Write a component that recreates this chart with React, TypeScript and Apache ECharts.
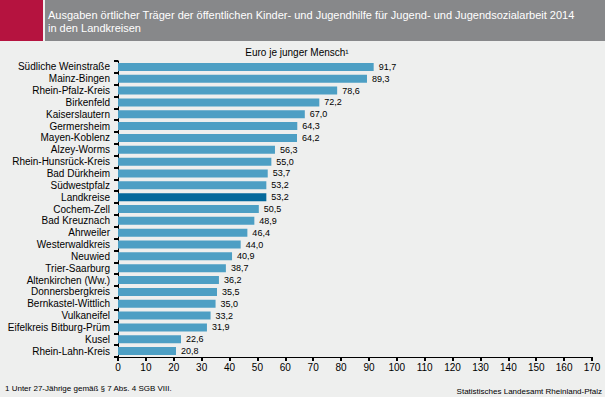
import React, { useEffect, useRef } from "react";
import * as echarts from "echarts";

const categories = [
  "Südliche Weinstraße",
  "Mainz-Bingen",
  "Rhein-Pfalz-Kreis",
  "Birkenfeld",
  "Kaiserslautern",
  "Germersheim",
  "Mayen-Koblenz",
  "Alzey-Worms",
  "Rhein-Hunsrück-Kreis",
  "Bad Dürkheim",
  "Südwestpfalz",
  "Landkreise",
  "Cochem-Zell",
  "Bad Kreuznach",
  "Ahrweiler",
  "Westerwaldkreis",
  "Neuwied",
  "Trier-Saarburg",
  "Altenkirchen (Ww.)",
  "Donnersbergkreis",
  "Bernkastel-Wittlich",
  "Vulkaneifel",
  "Eifelkreis Bitburg-Prüm",
  "Kusel",
  "Rhein-Lahn-Kreis",
];

const values = [
  91.7, 89.3, 78.6, 72.2, 67.0, 64.3, 64.2, 56.3, 55.0, 53.7, 53.2, 53.2, 50.5,
  48.9, 46.4, 44.0, 40.9, 38.7, 36.2, 35.5, 35.0, 33.2, 31.9, 22.6, 20.8,
];

const highlight = "Landkreise";

const titleLines = [
  "Ausgaben örtlicher Träger der öffentlichen Kinder- und Jugendhilfe für Jugend- und Jugendsozialarbeit 2014",
  "in den Landkreisen",
];
const unitLabel = "Euro je junger Mensch¹";
const footnote = "1 Unter 27-Jährige gemäß § 7 Abs. 4 SGB VIII.";
const source = "Statistisches Landesamt Rheinland-Pfalz";

const FONT = "'Liberation Sans', Arial, sans-serif";

export default function App() {
  const ref = useRef<HTMLDivElement>(null);
  useEffect(() => {
    if (!ref.current) return;
    const chart = echarts.init(ref.current, null, { renderer: "svg" });
    chart.setOption({
      animation: false,
      backgroundColor: "#eeefee",
      textStyle: { fontFamily: FONT },
      grid: { left: 118, right: 13, top: 61, bottom: 40, containLabel: false },
      xAxis: {
        type: "value",
        min: 0,
        max: 170,
        interval: 10,
        axisLine: { show: true, lineStyle: { color: "#000", width: 1 } },
        axisTick: { show: true, length: 4, lineStyle: { color: "#000", width: 2 } },
        splitLine: { show: false },
        axisLabel: { color: "#000", fontSize: 10, margin: 5, fontFamily: FONT },
      },
      yAxis: {
        type: "category",
        data: categories,
        inverse: true,
        axisLine: { show: true, lineStyle: { color: "#000", width: 1 } },
        axisTick: { show: true, length: 4, interval: 0, lineStyle: { color: "#000", width: 2 } },
        axisLabel: { color: "#000", fontSize: 10, margin: 8, interval: 0, fontFamily: FONT },
      },
      series: [
        {
          type: "bar",
          barWidth: 8,
          data: values.map((v, i) => ({
            value: v,
            itemStyle: { color: categories[i] === highlight ? "#05699c" : "#4d9fc4" },
          })),
          label: {
            show: true,
            position: "right",
            distance: 5,
            color: "#000",
            fontSize: 9,
            fontFamily: FONT,
            formatter: (p: any) => Number(p.value).toFixed(1).replace(".", ","),
          },
        },
      ],
      graphic: [
        { type: "rect", shape: { x: 0, y: 0, width: 43, height: 41 }, style: { fill: "#b5133f" }, silent: true },
        { type: "rect", shape: { x: 45, y: 0, width: 560, height: 41 }, style: { fill: "#87888a" }, silent: true },
        {
          type: "text",
          x: 48,
          y: 15,
          style: { text: titleLines[0], fill: "#fff", font: `11px ${FONT}`, verticalAlign: "middle" },
        },
        {
          type: "text",
          x: 48,
          y: 28,
          style: { text: titleLines[1], fill: "#fff", font: `11px ${FONT}`, verticalAlign: "middle" },
        },
        {
          type: "text",
          x: 297,
          y: 52,
          style: { text: unitLabel, fill: "#000", font: `10px ${FONT}`, align: "center", verticalAlign: "middle" },
        },
        {
          type: "text",
          x: 5,
          y: 388,
          style: { text: footnote, fill: "#000", font: `8px ${FONT}`, verticalAlign: "middle" },
        },
        {
          type: "text",
          x: 602,
          y: 391,
          style: { text: source, fill: "#000", font: `8px ${FONT}`, align: "right", verticalAlign: "middle" },
        },
      ],
    });
    return () => chart.dispose();
  }, []);
  return (
    <div
      ref={ref}
      style={{ position: "fixed", left: 0, top: 0, width: 605, height: 397 }}
    />
  );
}
